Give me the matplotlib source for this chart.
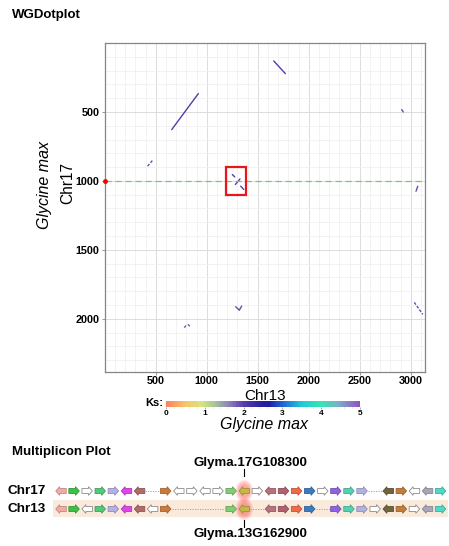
import numpy as np
import matplotlib
matplotlib.use('Agg')
import matplotlib.pyplot as plt
import matplotlib.patches as patches
from matplotlib.colors import LinearSegmentedColormap, Normalize, to_rgb
from matplotlib.cm import ScalarMappable

plt.rcParams['font.family'] = ['Liberation Sans', 'DejaVu Sans']

# ---- dotplot data (Chr13 position, Chr17 position, Ks) ----
seg_x0 = [657, 1657, 2912, 421, 1251, 1281, 1333, 3052, 780, 815, 1284, 1320, 3035]
seg_x1 = [918, 1771, 2927, 476, 1275, 1326, 1363, 3069, 805, 836, 1320, 1343, 3118]
seg_y0 = [628, 130, 483, 893, 954, 1026, 1038, 1075, 2065, 2040, 1913, 1937, 1881]
seg_y1 = [367, 222, 500, 845, 971, 986, 1062, 1039, 2040, 2055, 1937, 1908, 1968]
seg_ks = [2.0, 2.0, 1.9, 1.9, 2.0, 2.0, 2.0, 1.9, 1.8, 1.8, 1.9, 1.9, 1.9]
seg_dashed = [False, False, False, True, False, False, False, False, True, True, False, False, True]

focus_y = 1000
box_x = [1190, 1385]
box_y = [900, 1100]

x_ticks = [500, 1000, 1500, 2000, 2500, 3000]
y_ticks = [500, 1000, 1500, 2000]
x_max = 3140
y_max = 2386

ks_ticks = [0, 1, 2, 3, 4, 5]
ks_stops = [0.0, 0.5, 0.9, 1.25, 1.65, 2.0, 2.45, 2.65, 3.0, 3.5, 4.0, 4.45, 5.0]
ks_colors = ['#f8855f', '#f6c46c', '#d6e67c', '#a8c49a', '#8c7cb8', '#5a3aa8', '#2a1ea0',
             '#1c1ca8', '#2262d6', '#22c8d8', '#32e6b6', '#7caec8', '#9050c8']

# ---- multiplicon data (slot index, strand, gene colour) ----
chr17_slots = [0, 1, 2, 3, 4, 5, 6, 8, 9, 10, 11, 12, 13, 14, 15, 16, 17, 18, 19, 20, 21, 22, 23, 25, 26, 27, 28, 29]
chr17_dirs = [-1, 1, 1, 1, 1, -1, -1, 1, -1, 1, -1, 1, 1, -1, 1, -1, 1, 1, 1, 1, 1, 1, 1, -1, 1, -1, -1, 1]
chr13_slots = [0, 1, 2, 3, 4, 5, 6, 7, 8, 13, 14, 16, 17, 18, 19, 21, 22, 23, 24, 25, 26, 27, 28, 29]
chr13_dirs = [-1, 1, -1, 1, 1, -1, -1, -1, 1, 1, -1, -1, 1, 1, 1, 1, 1, 1, 1, -1, 1, 1, -1, 1]
chr17_gaps = [(6, 8), (23, 25)]
chr13_gaps = [(8, 13), (14, 16), (19, 21)]
slot_colors = {0: '#f2aaa4', 1: '#3ec046', 3: '#52c878', 4: '#b6b0e6', 5: '#e046e6',
               6: '#b06a6a', 8: '#cc7a3a', 13: '#82cc72', 14: '#c2ba44', 16: '#b8727e',
               17: '#b0606e', 18: '#f06a4a', 19: '#3a7cc2', 21: '#9062e0', 22: '#52d2b2',
               23: '#b2b2e2', 25: '#72623e', 26: '#c27c3c', 28: '#aaa6ba', 29: '#52d8c6'}
focus_slot = 14
gene_top = 'Glyma.17G108300'
gene_bottom = 'Glyma.13G162900'

W, H = 449, 546
fig = plt.figure(figsize=(W / 100, H / 100), dpi=100)


def fx(px):
    return px / W


def fy(py):
    return 1 - py / H


ks_cmap = LinearSegmentedColormap.from_list('ks', list(zip(np.array(ks_stops) / 5, ks_colors)))
ks_norm = Normalize(0, 5)

# ---- dotplot panel ----
ax = fig.add_axes([fx(104.7), fy(372), fx(425) - fx(104.7), fy(43) - fy(372)])
ax.set_xlim(0, x_max)
ax.set_ylim(y_max, 0)
ax.set_xticks(x_ticks)
ax.set_yticks(y_ticks)
ax.set_xticks(np.arange(100, x_max, 100), minor=True)
ax.set_yticks(np.arange(100, y_max, 100), minor=True)
ax.grid(which='minor', color='#f0f0f0', lw=0.6)
ax.grid(which='major', color='#dcdcdc', lw=0.7)
ax.set_axisbelow(True)
for s in ax.spines.values():
    s.set_color('#858585')
    s.set_linewidth(0.9)
ax.tick_params(which='major', length=2.5, width=0.6, color='#858585', pad=1.2,
               labelsize=7.8)
ax.tick_params(axis='x', which='major', pad=0.6)
ax.tick_params(which='minor', length=0)
for lab in ax.get_xticklabels() + ax.get_yticklabels():
    lab.set_fontweight('bold')

for i in range(len(seg_x0)):
    ax.plot([seg_x0[i], seg_x1[i]], [seg_y0[i], seg_y1[i]],
            color=ks_cmap(ks_norm(seg_ks[i])), lw=1.0,
            ls=(0, (2, 1.2)) if seg_dashed[i] else '-', solid_capstyle='round')

# highlighted anchor row and box
ax.axhline(focus_y, color='#74ca74', lw=0.9, ls=(0, (5, 3)))
ax.plot([0], [focus_y], 'o', color='red', ms=2.5, clip_on=False, zorder=5)
ax.add_patch(patches.Rectangle((box_x[0], box_y[0]), box_x[1] - box_x[0], box_y[1] - box_y[0],
                               fill=False, edgecolor='#e8161b', lw=1.6, zorder=6))

fig.text(fx(12), fy(15), 'WGDotplot', fontsize=9.5, fontweight='bold', va='center', ha='left')
fig.text(fx(68), fy(183), 'Chr17', fontsize=11.2, rotation=90, ha='center', va='center')
fig.text(fx(45), fy(185), 'Glycine max', fontsize=11.5, style='italic', rotation=90,
         ha='center', va='center')
fig.text(fx(265), fy(395.5), 'Chr13', fontsize=11, ha='center', va='center')
fig.text(fx(264), fy(425), 'Glycine max', fontsize=11.5, style='italic', ha='center', va='center')

# ---- Ks colour bar ----
cax = fig.add_axes([fx(166), fy(406.5), fx(360) - fx(166), fy(400.5) - fy(406.5)])
cb = fig.colorbar(ScalarMappable(norm=ks_norm, cmap=ks_cmap), cax=cax, orientation='horizontal')
cb.outline.set_visible(False)
cb.set_ticks(ks_ticks)
cax.set_xticks(np.arange(0, 5.01, 0.2), minor=True)
cax.tick_params(which='major', length=1.5, width=0.5, color='#888888', pad=1, labelsize=6)
cax.tick_params(which='minor', length=1, width=0.4, color='#aaaaaa')
for lab in cax.get_xticklabels():
    lab.set_fontweight('bold')
fig.text(fx(163), fy(403), 'Ks:', fontsize=8, fontweight='bold', ha='right', va='center')

# ---- multiplicon plot ----
fig.text(fx(12), fy(452), 'Multiplicon Plot', fontsize=9.5, fontweight='bold', va='center', ha='left')

slot_px = 13.09
mx = fig.add_axes([0, 0, 1, fy(436)])
mx.set_xlim(-61 / slot_px, (W - 61) / slot_px)
mx.set_ylim(55 / 18, -55 / 18)
mx.axis('off')

# band behind the Chr13 row
mx.add_patch(patches.Rectangle((-0.61, 0.5), 30.17, 0.94, color='#f9eadc', lw=0, zorder=0))

# glow around the anchor genes
for r in [0, 1]:
    for k in range(6):
        mx.add_patch(patches.Ellipse((focus_slot, r), 1.35 - k * 0.12, 1.25 - k * 0.11,
                                     color='#ff4a4a', alpha=0.1, lw=0, zorder=1))


def gene_arrow(axm, cx, y, d, color):
    L, hl, bh, hh = 0.8, 0.3, 0.14, 0.24
    xs = np.array([-L / 2, L / 2 - hl, L / 2 - hl, L / 2, L / 2 - hl, L / 2 - hl, -L / 2]) * d + cx
    ys = np.array([-bh, -bh, -hh, 0, hh, bh, bh]) + y
    if color is None:
        fc, ec = 'white', '#8c8c8c'
    else:
        fc = color
        ec = tuple(c * 0.8 for c in to_rgb(color))
    axm.add_patch(patches.Polygon(np.column_stack([xs, ys]), closed=True, fc=fc, ec=ec,
                                  lw=0.6, zorder=3))


for row, slots, dirs, gaps in [(0, chr17_slots, chr17_dirs, chr17_gaps),
                               (1, chr13_slots, chr13_dirs, chr13_gaps)]:
    for a, b in gaps:
        mx.plot([a + 0.45, b - 0.45], [row, row], color='#9a9a9a', lw=0.6, ls=(0, (1.5, 1.5)), zorder=2)
    for s, d in zip(slots, dirs):
        gene_arrow(mx, s, row, d, slot_colors.get(s))

mx.text(-4.12, 0, 'Chr17', fontsize=9.7, fontweight='bold', ha='left', va='center')
mx.text(-4.12, 1, 'Chr13', fontsize=9.7, fontweight='bold', ha='left', va='center')

mx.plot([focus_slot, focus_slot], [-1.22, -0.85], color='black', lw=0.8)
mx.plot([focus_slot, focus_slot], [1.6, 1.98], color='black', lw=0.8)
mx.text(focus_slot + 0.45, -1.55, gene_top, fontsize=9.5, fontweight='bold', ha='center', va='center')
mx.text(focus_slot + 0.45, 2.4, gene_bottom, fontsize=9.5, fontweight='bold', ha='center', va='center')

plt.savefig('out.png', dpi=100)
